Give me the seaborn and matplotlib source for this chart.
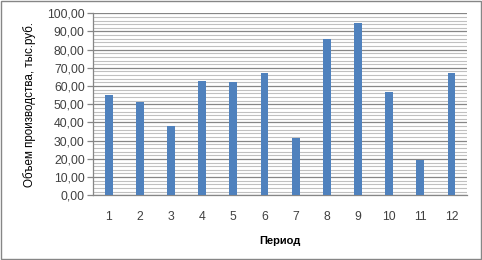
import matplotlib
matplotlib.use("Agg")
import matplotlib.pyplot as plt
import seaborn as sns
import pandas as pd
from matplotlib.ticker import MultipleLocator, FuncFormatter
from matplotlib.patches import Rectangle

periods = ["1", "2", "3", "4", "5", "6", "7", "8", "9", "10", "11", "12"]
volumes = [55.1, 51.3, 38.1, 62.8, 62.2, 67.2, 31.7, 85.9, 94.7, 57.0, 19.6, 67.2]

df = pd.DataFrame({"period": periods, "volume": volumes})

sns.set_style("white")
plt.rcParams["font.family"] = ["Liberation Sans", "DejaVu Sans"]

fig = plt.figure(figsize=(4.82, 2.60), dpi=100)
ax = fig.add_axes([0.193, 0.249, 0.776, 0.700])

sns.barplot(data=df, x="period", y="volume", order=periods, color="#4F81BD",
            saturation=1, width=0.25, linewidth=0, ax=ax, zorder=3)

ax.set_ylim(0, 100)
ax.set_xlim(-0.5, 11.5)
ax.yaxis.set_major_locator(MultipleLocator(10))
ax.yaxis.set_minor_locator(MultipleLocator(2))
ax.yaxis.set_major_formatter(FuncFormatter(lambda v, p: f"{v:.2f}".replace(".", ",")))
ax.grid(which="major", axis="y", color="#868686", linewidth=0.9, zorder=0)
ax.grid(which="minor", axis="y", color="#C0C0C0", linewidth=0.8, zorder=0)
ax.set_axisbelow(True)

for s in ["top", "right"]:
    ax.spines[s].set_visible(False)
ax.spines["left"].set_color("#868686")
ax.spines["bottom"].set_color("#868686")
ax.spines["left"].set_linewidth(0.9)
ax.spines["bottom"].set_linewidth(0.9)

ax.tick_params(axis="y", which="major", length=4, color="#868686", width=0.9,
               labelsize=8.8, labelcolor="#404040", pad=2, left=True)
ax.tick_params(axis="y", which="minor", length=0)
ax.tick_params(axis="x", length=0, labelsize=8.8, labelcolor="#404040", pad=11)

ax.set_ylabel("Объем производства, тыс.руб.", fontsize=8.4, color="black", labelpad=8)
ax.set_xlabel("Период", fontsize=8, fontweight="bold", color="black", labelpad=10)

fig.patches.append(Rectangle((0.002, 0.004), 0.995, 0.992, transform=fig.transFigure,
                             fill=False, edgecolor="#868686", linewidth=1.0))

fig.savefig("out.png", dpi=100)
